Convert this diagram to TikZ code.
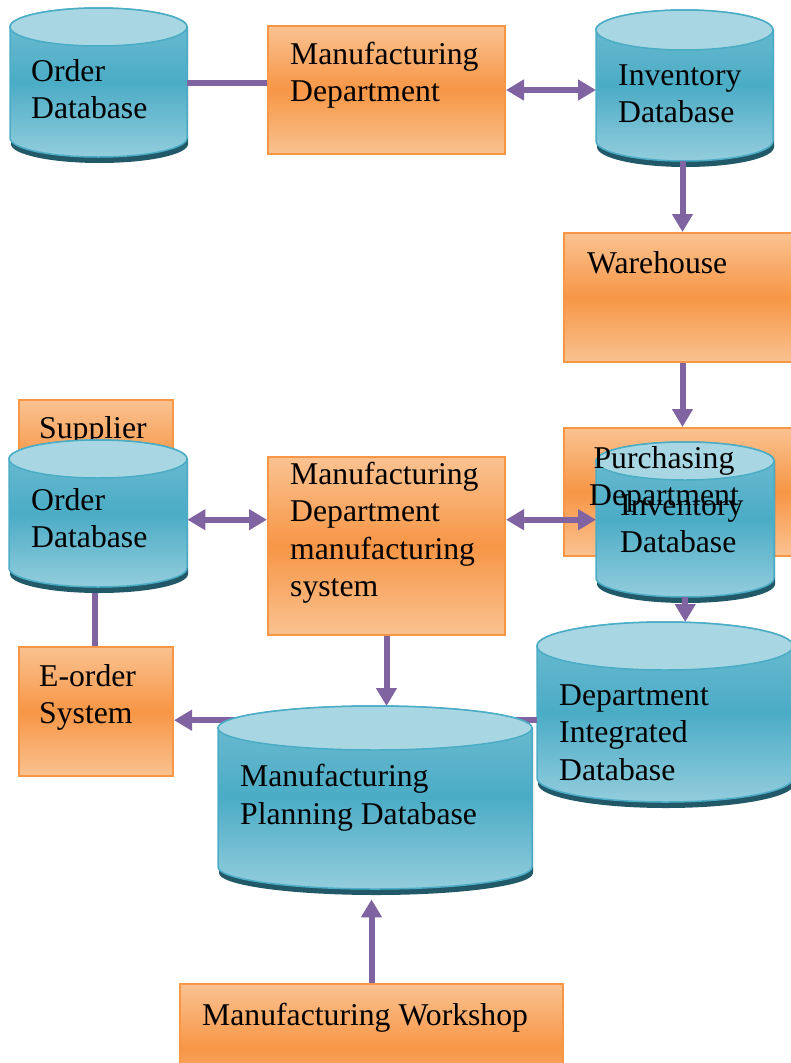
\documentclass[tikz,border=0pt]{standalone}
\usepackage{fontspec}
\setmainfont{Liberation Serif}
\usetikzlibrary{arrows.meta}

\definecolor{flowpurple}{HTML}{8064A2}
\definecolor{boxorange}{HTML}{F79646}
\definecolor{boxlight}{HTML}{FAC291}
\definecolor{dbblue}{HTML}{4BACC6}
\definecolor{dblight}{HTML}{A8D7E3}
\definecolor{dbbottom}{HTML}{93CDDD}
\definecolor{dbshade}{HTML}{215968}

\tikzset{
  box/.style={draw=boxorange, line width=2pt, top color=boxlight, bottom color=boxlight,
    middle color=boxorange, inner sep=0pt, anchor=north west},
  dbarea/.style={inner sep=0pt, anchor=north west},
  lbl/.style={font=\fontsize{31.7}{37.5}\selectfont, align=left, inner sep=0pt, anchor=base west},
  link/.style={flowpurple, line width=6pt},
  flow/.style={link, -{Triangle[length=18pt,width=20pt]}},
  both/.style={link, {Triangle[length=18pt,width=20pt]}-{Triangle[length=18pt,width=20pt]}},
}

% left, top centre, right, bottom centre, y radius (all in px)
\newcommand{\dbcyl}[5]{%
  \pgfmathsetmacro{\dbrx}{(#3-#1)/2}
  \fill[dbshade] (#1+1,#2) -- (#1+1,#4+6) arc[start angle=180,end angle=360,x radius=\dbrx pt,y radius=#5pt] -- (#3+1,#2) -- cycle;
  \shade[draw=dbblue, line width=1.5pt, top color=dblight!40!dbblue, bottom color=dbbottom, middle color=dbblue]
    (#1,#2) -- (#1,#4) arc[start angle=180,end angle=360,x radius=\dbrx pt,y radius=#5pt]
    -- (#3,#2) arc[start angle=0,end angle=180,x radius=\dbrx pt,y radius=#5pt] -- cycle;
  \filldraw[fill=dblight, draw=dbblue, line width=1.5pt] ({(#1+#3)/2},#2) ellipse [x radius=\dbrx pt, y radius=#5pt];
}

\begin{document}
\begin{tikzpicture}[x=1pt,y=-1pt]
\useasboundingbox (0,0) rectangle (791,1063);
\clip (0,0) rectangle (791,1063);

% areas of the databases
\node[dbarea, minimum width=177pt, minimum height=149pt] (ordA) at (10,8) {};
\node[dbarea, minimum width=177pt, minimum height=151pt] (invA) at (596,10) {};
\node[dbarea, minimum width=178pt, minimum height=147pt] (ordB) at (9,440) {};
\node[dbarea, minimum width=178pt, minimum height=155pt] (invB) at (596,442) {};
\node[dbarea, minimum width=314pt, minimum height=183pt] (plan) at (218,706) {};
\node[dbarea, minimum width=256pt, minimum height=180pt] (dept) at (537,622) {};

% top row
\dbcyl{10}{27}{187}{138}{19}
\node[lbl] (ordAT) at (31,118.5) {Order\\Database};
\node[box, minimum width=237pt, minimum height=128pt] (mfgA) at (267,25) {};
\node[lbl] (mfgAT) at (290,101.5) {Manufacturing\\Department};
\dbcyl{596}{30}{773}{141}{20}
\node[lbl] (invAT) at (618,122.5) {Inventory\\Database};

\node[box, minimum width=237pt, minimum height=129pt] (ware) at (563,232) {};
\node[lbl] (wareT) at (587,273) {Warehouse};

% middle row
\node[box, minimum width=154pt, minimum height=128pt] (supp) at (18,399) {};
\node[lbl] (suppT) at (39,438) {Supplier};
\draw[link] (ordB.south -| 95,0) -- (95,646);
\dbcyl{9}{459}{187}{568}{19}
\node[lbl] (ordBT) at (31,547.5) {Order\\Database};

\node[box, minimum width=237pt, minimum height=178pt] (mfgB) at (267,456) {};
\node[lbl] (mfgBT) at (290,596.5) {Manufacturing\\Department\\manufacturing\\system};

\node[box, minimum width=237pt, minimum height=128pt] (purch) at (563,427) {};
\dbcyl{596}{461}{774}{578}{19}
\node[lbl] (invBT) at (620,552.5) {Inventory\\Database};
\node[lbl, align=center, anchor=base] (purchT) at (664,505.5) {Purchasing\\Department};

% lower part
\node[box, minimum width=154pt, minimum height=129pt] (eord) at (18,646) {};
\node[lbl] (eordT) at (39,723.5) {E-order\\System};
\dbcyl{537}{646}{793}{778}{24}
\node[lbl] (deptT) at (559,780) {Department\\Integrated\\Database};
\draw[flow] ([yshift=-8pt]dept.west) -- ([yshift=-8pt]dept.west -| eord.east);
\dbcyl{218}{728}{532}{867}{22}
\node[lbl] (planT) at (240,824) {Manufacturing\\Planning Database};

\node[box, minimum width=383pt, minimum height=128pt] (work) at (179,983) {};
\node[lbl] (workT) at (202,1025) {Manufacturing Workshop};

% connectors
\draw[link] (ordA.east) -- (ordA.east -| mfgA.west);
\draw[both] (mfgA.east) -- (mfgA.east -| invA.west);
\draw[flow] (ware.north |- invA.south) -- (ware.north);
\draw[flow] (ware.south) -- (purch.north);
\draw[both] (ordB.east |- invB.west) -- (mfgB.west |- invB.west);
\draw[both] (mfgB.east |- invB.west) -- (invB.west);
\draw[flow] (invB.south) -- (invB.south |- dept.north);
\draw[flow] (mfgB.south) -- (mfgB.south |- plan.north);
\draw[flow] (work.north) -- ([yshift=-10pt]work.north |- plan.south);

\end{tikzpicture}
\end{document}
